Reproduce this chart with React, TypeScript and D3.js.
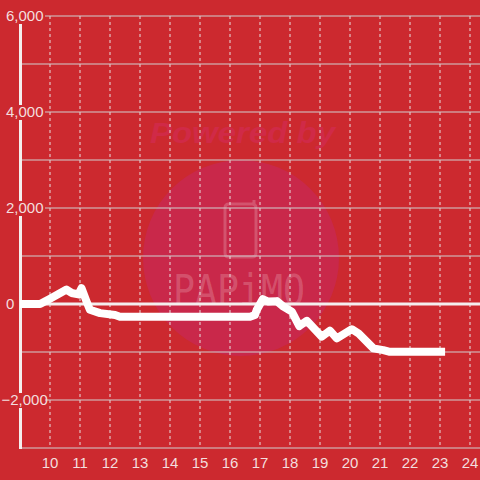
import React from "react";
import * as d3 from "d3";

const hours = [9.0, 9.67, 10.0, 10.55, 10.72, 10.95, 11.05, 11.22, 11.33, 11.67, 12.17, 12.33, 16.67, 16.83, 16.89, 17.09, 17.28, 17.56, 17.78, 18.06, 18.31, 18.56, 19.06, 19.33, 19.56, 20.06, 20.28, 20.78, 21.11, 21.33, 23.17];
const values = [0, 0, 110, 300, 230, 200, 330, 50, -120, -190, -230, -265, -265, -230, -125, 100, 50, 60, -55, -160, -460, -350, -680, -555, -715, -525, -610, -925, -960, -995, -995];
const yTicks = [-2000, 0, 2000, 4000, 6000];
const yGrid = [-3000, -2000, -1000, 0, 1000, 2000, 3000, 4000, 5000, 6000];
const xTicks = [10, 11, 12, 13, 14, 15, 16, 17, 18, 19, 20, 21, 22, 23, 24];

const W = 480;
const H = 480;
const BG = "#cc292f";
const FONT = "'Liberation Sans', Arial, sans-serif";

export default function App() {
  const x = d3.scaleLinear().domain([9, 24 + 1 / 3]).range([20, 480]);
  const y = d3.scaleLinear().domain([-3000, 6000]).range([448, 16]);
  const fmt = d3.format(",");
  const pts: [number, number][] = hours.map((h, i) => [h, values[i]]);
  const line = d3
    .line<[number, number]>()
    .x((d) => x(d[0]))
    .y((d) => y(d[1]));

  return (
    <svg
      width={W}
      height={H}
      style={{ position: "absolute", left: 0, top: 0, display: "block" }}
    >
      <rect x={0} y={0} width={W} height={H} fill={BG} />
      {/* watermark */}
      <g>
        <text
          x={150}
          y={143}
          textLength={185}
          lengthAdjust="spacingAndGlyphs"
          fontFamily={FONT}
          fontWeight="bold"
          fontStyle="italic"
          fontSize={29}
          fill="#d02a47"
        >
          Powered by
        </text>
        <circle cx={241} cy={258} r={98} fill="#c9284a" />
        <path
          d="M229,204 H252 Q256,204 256,208 V253 Q256,257 252,257 H229 Q225,257 225,253 V208 Q225,204 229,204 M254,204 V200"
          fill="none"
          stroke="rgba(255,255,255,0.2)"
          strokeWidth={3}
        />
        <text
          x={173}
          y={305}
          fontFamily="'DejaVu Sans Mono', monospace"
          fontSize={42}
          textLength={132}
          lengthAdjust="spacingAndGlyphs"
          fill="rgba(255,255,255,0.2)"
        >
          PAPiMO
        </text>
      </g>
      {/* vertical dashed grid */}
      {xTicks.map((t) => (
        <line
          key={"vx" + t}
          x1={x(t)}
          x2={x(t)}
          y1={y(6000)}
          y2={y(-3000)}
          stroke="#e8e0e0"
          strokeWidth={1}
          strokeDasharray="3,3"
        />
      ))}
      {/* horizontal grid */}
      {yGrid.map((t) => (
        <line
          key={"hy" + t}
          x1={20}
          x2={480}
          y1={y(t)}
          y2={y(t)}
          stroke={t === 0 ? "#f4eeee" : "#cfcfcf"}
          strokeWidth={t === 0 ? 3 : 1.2}
        />
      ))}
      {/* y axis line */}
      <line x1={20.5} x2={20.5} y1={y(6000)} y2={y(-3000) + 1} stroke="#f4eeee" strokeWidth={3} />
      {/* y labels */}
      {yTicks.map((t) => (
        <g key={"yl" + t}>
          {t !== 0 && <rect x={3} y={y(t) - 7} width={42} height={15} fill={BG} />}
          <text
            x={t < 0 ? 1.5 : 6}
            y={y(t)}
            dy="0.36em"
            textAnchor="start"
            fontFamily={FONT}
            fontSize={15}
            fill="#f3dede"
          >
            {fmt(t)}
          </text>
        </g>
      ))}
      {/* x labels */}
      {xTicks.map((t) => (
        <text
          key={"xl" + t}
          x={x(t)}
          y={468}
          textAnchor="middle"
          fontFamily={FONT}
          fontSize={15}
          fill="#f3dede"
        >
          {t}
        </text>
      ))}
      {/* data line */}
      <path
        d={line(pts) || ""}
        fill="none"
        stroke="#ffffff"
        strokeWidth={8}
        strokeLinejoin="round"
      />
    </svg>
  );
}
